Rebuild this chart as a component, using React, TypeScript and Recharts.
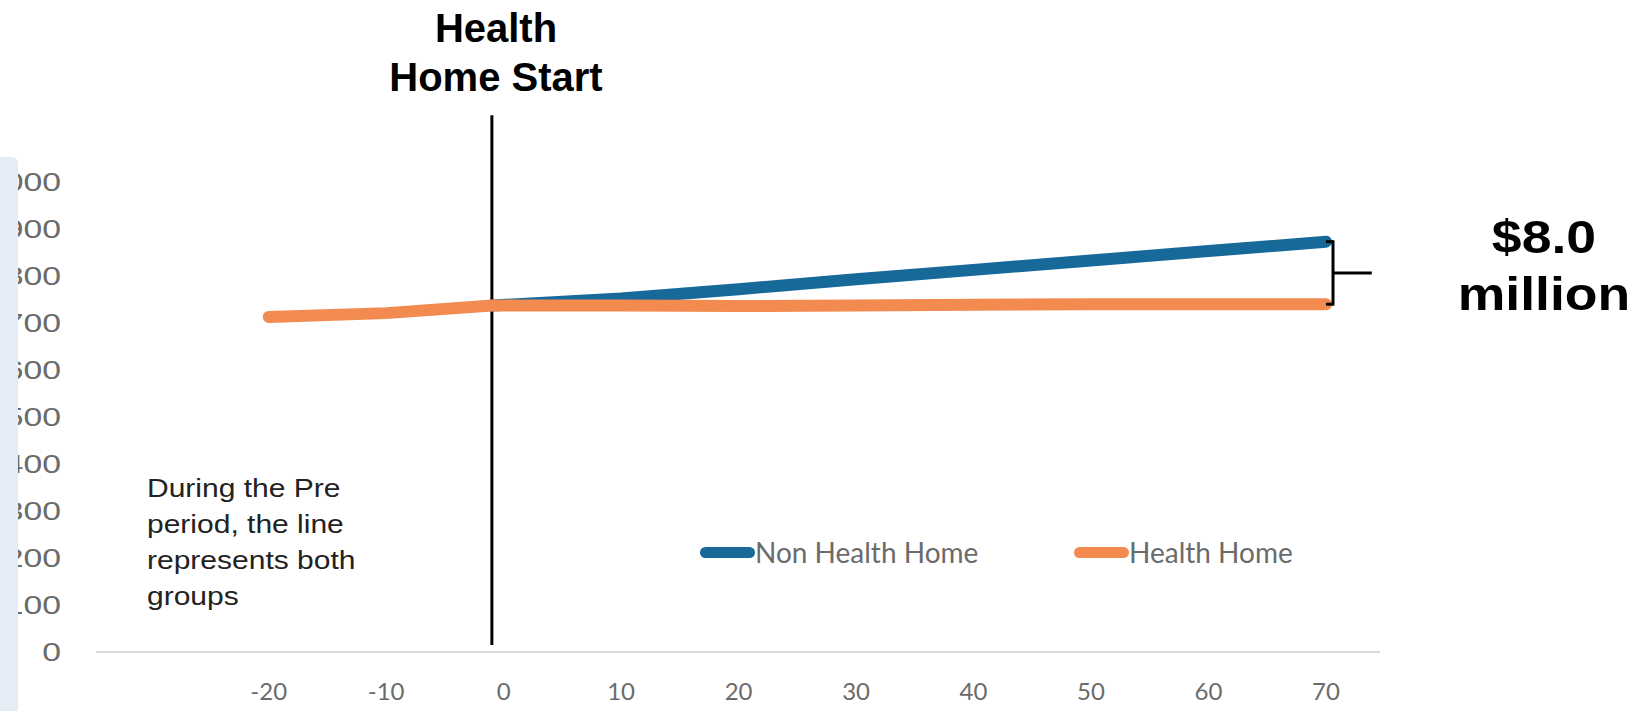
import { LineChart, Line, XAxis, YAxis, ReferenceLine } from "recharts";

// months relative to Health Home start
const periods = [-20, -10, -1, 10, 20, 30, 40, 50, 60, 70];
const nonHealthHome = [null, null, 737, 752, 772, 793, 813, 833, 853, 873];
const healthHome = [713, 721, 737, 737, 736, 737, 739, 740, 740, 740];
const xTicks = [-20, -10, 0, 10, 20, 30, 40, 50, 60, 70];
const yTicks = [0, 100, 200, 300, 400, 500, 600, 700, 800, 900, 1000];

const BLUE = "#17699a";
const ORANGE = "#f38b50";

const data = periods.map((p, i) => ({
  period: p,
  nonHealthHome: nonHealthHome[i],
  healthHome: healthHome[i],
}));

const startX = -1;
const gapTop = nonHealthHome[nonHealthHome.length - 1] as number;
const gapBottom = healthHome[healthHome.length - 1];
const gapMid = (gapTop + gapBottom) / 2;
const bracketX = 70.6;

// the source image is stretched sideways, so the y labels are too
function YTick({ x, y, payload }: any) {
  return (
    <text
      transform={`translate(${x},${y}) scale(1.35,1)`}
      textAnchor="end"
      dy="0.36em"
      fontSize={25}
      fill="#6b6b6b"
      fontFamily="Liberation Sans, Arial, sans-serif"
    >
      {payload.value}
    </text>
  );
}

function LegendItem({ label, color, left }: { label: string; color: string; left: number }) {
  return (
    <div
      style={{
        position: "absolute",
        left,
        top: 535,
        display: "flex",
        alignItems: "center",
        fontFamily: "Lato, sans-serif",
      }}
    >
      <div style={{ width: 55, height: 11, borderRadius: 6, background: color }} />
      <span style={{ fontSize: 28, color: "#6b6b6b" }}>{label}</span>
    </div>
  );
}

const seg = (a: [number, number], b: [number, number]) => [
  { x: a[0], y: a[1] },
  { x: b[0], y: b[1] },
];

export default function App() {
  return (
    <div
      style={{
        position: "absolute",
        left: 0,
        top: 0,
        width: 1637,
        height: 711,
        background: "#fff",
        overflow: "hidden",
      }}
    >
      <LineChart
        width={1637}
        height={711}
        data={data}
        margin={{ top: 182, right: 257, bottom: 0, left: 26 }}
      >
        <XAxis
          dataKey="period"
          type="number"
          domain={[-34.7, 74.6]}
          ticks={xTicks}
          allowDataOverflow
          height={59}
          tickLine={false}
          axisLine={{ stroke: "#d9d9d9", strokeWidth: 2 }}
          tickMargin={25}
          tick={{ fontSize: 24, fill: "#6b6b6b", fontFamily: "Lato" }}
        />
        <YAxis
          domain={[0, 1000]}
          ticks={yTicks}
          width={70}
          tickLine={false}
          axisLine={false}
          tickMargin={29}
          tick={<YTick />}
        />
        <ReferenceLine
          segment={seg([startX, 15], [startX, 1142])}
          stroke="#000"
          strokeWidth={3}
          ifOverflow="visible"
        />
        <Line
          dataKey="nonHealthHome"
          stroke={BLUE}
          strokeWidth={12}
          strokeLinecap="round"
          dot={false}
          isAnimationActive={false}
        />
        <Line
          dataKey="healthHome"
          stroke={ORANGE}
          strokeWidth={12}
          strokeLinecap="round"
          dot={false}
          isAnimationActive={false}
        />
        {/* bracket marking the gap at month 70 */}
        <ReferenceLine segment={seg([70, gapTop], [bracketX, gapTop])} stroke="#000" strokeWidth={3} ifOverflow="visible" />
        <ReferenceLine segment={seg([70, gapBottom], [bracketX, gapBottom])} stroke="#000" strokeWidth={3} ifOverflow="visible" />
        <ReferenceLine segment={seg([bracketX, gapTop + 3], [bracketX, gapBottom - 3])} stroke="#000" strokeWidth={3} ifOverflow="visible" />
        <ReferenceLine segment={seg([bracketX, gapMid], [73.9, gapMid])} stroke="#000" strokeWidth={3} ifOverflow="visible" />
      </LineChart>

      <LegendItem label="Non Health Home" color={BLUE} left={700} />
      <LegendItem label="Health Home" color={ORANGE} left={1074} />

      <div
        style={{
          position: "absolute",
          left: 0,
          top: 157,
          width: 18,
          height: 560,
          background: "#e4edf5",
          borderTopRightRadius: 6,
        }}
      />
      <div
        style={{
          position: "absolute",
          left: 346,
          width: 300,
          top: 4,
          textAlign: "center",
          fontFamily: "Liberation Sans, Arial, sans-serif",
          fontWeight: 700,
          fontSize: 40,
          lineHeight: "49px",
          color: "#000",
        }}
      >
        Health
        <br />
        Home Start
      </div>
      <div
        style={{
          position: "absolute",
          left: 1454,
          width: 180,
          top: 208,
          textAlign: "center",
          fontFamily: "Liberation Sans, Arial, sans-serif",
          fontWeight: 700,
          fontSize: 47,
          lineHeight: "57px",
          color: "#000",
          transform: "scaleX(1.14)",
        }}
      >
        $8.0
        <br />
        million
      </div>
      <div
        style={{
          position: "absolute",
          left: 147,
          top: 470,
          fontFamily: "Liberation Sans, Arial, sans-serif",
          fontSize: 25,
          lineHeight: "36px",
          color: "#222",
          transform: "scaleX(1.2)",
          transformOrigin: "left top",
        }}
      >
        During the Pre
        <br />
        period, the line
        <br />
        represents both
        <br />
        groups
      </div>
    </div>
  );
}
